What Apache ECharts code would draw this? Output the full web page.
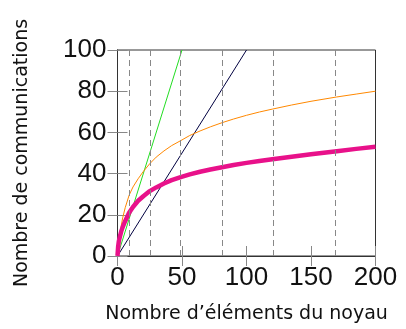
<!DOCTYPE html>
<html><head><meta charset="utf-8">
<script src="https://cdn.jsdelivr.net/npm/echarts@6/dist/echarts.min.js"></script>
<style>html,body{margin:0;padding:0;background:#fff}#c{width:406px;height:329px}</style>
</head><body><div id="c"></div>
<script>
const xTicks = [0, 50, 100, 150, 200];
const yTicks = [0, 20, 40, 60, 80, 100];
const dashedX = [9, 25, 49, 81, 121, 169];
const curveX   = [0, 0.5, 1, 2, 3, 4, 6, 9, 12, 16, 20, 25, 30, 36, 42, 49, 56, 64, 72, 81, 90, 100, 110, 120, 135, 150, 170, 185, 200];
const orangeY  = [0, 3.5, 6.5, 11, 15, 18.5, 23.5, 29.5, 33.5, 37.5, 41, 44.8, 48, 51, 53.6, 56, 58.5, 60.7, 62.7, 64.7, 66.5, 68.3, 69.9, 71.3, 73.3, 75.1, 77.2, 78.6, 80];
const magentaY = [0, 4.5, 7, 9.8, 12.2, 14, 17, 21, 23.8, 26.8, 29, 31.5, 33.3, 35.2, 36.8, 38.3, 39.6, 40.9, 42, 43.1, 44.2, 45.2, 46.1, 47, 48.2, 49.4, 50.9, 52, 53];
const navyX = [0, 100];
const navyY = [0, 100];
const greenX = [0, 50];
const greenY = [0, 100];

const zip = (a, b) => a.map((v, i) => [v, b[i]]);
const tickFont = { fontFamily: 'Liberation Sans', fontSize: 26, color: '#111' };
const titleFont = { fontFamily: 'DejaVu Sans', fontSize: 19, color: '#111' };

const chart = echarts.init(document.getElementById('c'), null, { renderer: 'canvas' });
chart.setOption({
  animation: false,
  grid: { left: 117.5, right: 30.5, top: 50, bottom: 73, show: true, borderColor: '#333', borderWidth: 1 },
  xAxis: [
    { type: 'value', min: 0, max: 200, interval: 50, position: 'bottom',
      name: 'Nombre d\u2019éléments du noyau', nameLocation: 'middle', nameGap: 49, nameTextStyle: titleFont,
      axisLine: { show: true, lineStyle: { color: '#333' } },
      axisTick: { show: true, inside: true, length: 10, lineStyle: { color: '#888' } },
      axisLabel: Object.assign({ margin: 9, formatter: v => xTicks.includes(v) ? String(v) : '' }, tickFont),
      splitLine: { show: false } },
    { type: 'value', min: 0, max: 200, interval: 50, position: 'top',
      axisLine: { show: true, lineStyle: { color: '#333' } },
      axisTick: { show: true, inside: true, length: 10, lineStyle: { color: '#888' } },
      axisLabel: { show: false }, splitLine: { show: false } }
  ],
  yAxis: [
    { type: 'value', min: 0, max: 100, interval: 20, position: 'left',
      name: 'Nombre de communications', nameLocation: 'middle', nameGap: 86, nameRotate: 90, nameTextStyle: titleFont,
      axisLine: { show: true, lineStyle: { color: '#333' } },
      axisTick: { show: true, inside: true, length: 10, lineStyle: { color: '#888' } },
      axisLabel: Object.assign({ margin: 11, formatter: v => yTicks.includes(v) ? String(v) : '' }, tickFont),
      splitLine: { show: false } },
    { type: 'value', min: 0, max: 100, interval: 20, position: 'right',
      axisLine: { show: true, lineStyle: { color: '#333' } },
      axisTick: { show: true, inside: true, length: 10, lineStyle: { color: '#888' } },
      axisLabel: { show: false }, splitLine: { show: false } }
  ],
  series: [
    { type: 'line', data: [], symbol: 'none', silent: true,
      markLine: { silent: true, symbol: 'none', label: { show: false },
        lineStyle: { color: '#888', type: [6, 4], width: 1 },
        data: dashedX.map(x => ({ xAxis: x })) } },
    { type: 'line', data: zip(greenX, greenY), symbol: 'none', lineStyle: { color: '#22dd22', width: 1 } },
    { type: 'line', data: zip(navyX, navyY), symbol: 'none', lineStyle: { color: '#000040', width: 1 } },
    { type: 'line', data: zip(curveX, orangeY), symbol: 'none', lineStyle: { color: '#ff8800', width: 1 } },
    { type: 'line', data: zip(curveX, magentaY), symbol: 'none', lineStyle: { color: '#e8118a', width: 4.5, join: 'round' } }
  ]
});
</script></body></html>
